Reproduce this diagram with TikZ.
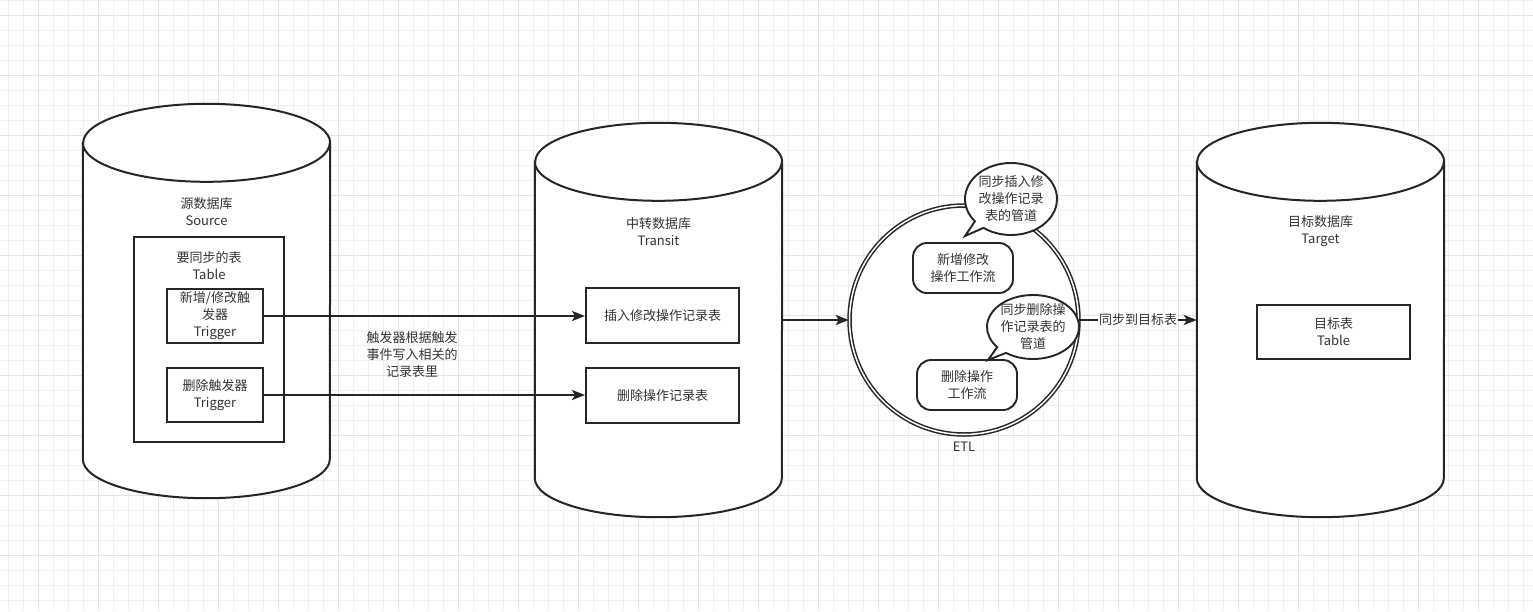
\documentclass[tikz,border=0pt]{standalone}
\usepackage{fontspec}
\setmainfont{Noto Sans CJK SC}
\usepackage{xcolor}
\usepackage{tikz}
\usetikzlibrary{shapes,shapes.callouts,arrows.meta,positioning,calc}

\definecolor{inkc}{HTML}{22272B}
\definecolor{txtc}{HTML}{333333}

\begin{document}
\begin{tikzpicture}[
    x=1pt, y=-1pt,
    font=\fontsize{13}{17}\selectfont,
    gridminor/.style={draw=black!6, line width=0.8pt},
    gridmajor/.style={draw=black!11, line width=0.8pt},
    dbcyl/.style={rectangle, inner sep=0, minimum width=247, minimum height=394},
    dbline/.style={draw=inkc, line width=2pt, fill=white},
    txt/.style={align=center, text=txtc, inner sep=1pt},
    tbl/.style={rectangle, draw=inkc, line width=2pt, fill=white, align=center, text=txtc, inner sep=0},
    flow/.style={rectangle, draw=inkc, line width=1.9pt, fill=white, rounded corners=14pt, align=center, text=txtc, minimum width=100, minimum height=50, inner sep=0},
    pipe/.style={ellipse callout, draw=inkc, line width=1.9pt, fill=white, align=center, text=txtc, inner sep=0, minimum width=92, minimum height=72},
    arrow/.style={-{Stealth[length=13pt, width=10pt, inset=3pt]}, line width=2pt, draw=inkc}
]
    \useasboundingbox (0,0) rectangle (1533,611);
    \fill [white] (0,0) rectangle (1533,611);

    % background grid
    \foreach \gx in {8,23,...,1533} \draw [gridminor] (\gx,0) -- (\gx,611);
    \foreach \gy in {0,15,...,611} \draw [gridminor] (0,\gy) -- (1533,\gy);
    \foreach \gx in {38,98,...,1533} \draw [gridmajor] (\gx,0) -- (\gx,611);
    \foreach \gy in {15,75,...,611} \draw [gridmajor] (0,\gy) -- (1533,\gy);

    % databases
    \node [dbcyl] (src) at (206.5,301) {};
    \node [dbcyl] (mid) at (658.5,320) {};
    \node [dbcyl] (dst) at (1320.5,320) {};
    \foreach \db in {src,mid,dst} {
        \draw [dbline] ($(\db.north west)+(0,39)$) -- ($(\db.south west)+(0,-39)$)
            arc [start angle=180, end angle=0, x radius=123.5, y radius=39]
            -- ($(\db.north east)+(0,39)$)
            arc [start angle=0, end angle=-180, x radius=123.5, y radius=39] -- cycle;
        \draw [dbline, fill=none] ($(\db.north west)+(0,39)$)
            arc [start angle=180, end angle=0, x radius=123.5, y radius=39];
    }

    % source side
    \node [txt] (srcname) at (206.5,211.5) {源数据库\\Source};
    \node [tbl, minimum width=150, minimum height=205] (srctbl) at (209,339.5) {};
    \node [txt] (srctblname) at (209,266) {要同步的表\\Table};
    \node [tbl, minimum width=96, minimum height=54] (trgup) at (215,316) {新增/修改触\\发器\\Trigger};
    \node [tbl, minimum width=96, minimum height=54] (trgdel) at (215,395) {删除触发器\\Trigger};

    % transit side
    \node [txt] (midname) at (658.5,231.5) {中转数据库\\Transit};
    \node [tbl, minimum width=153, minimum height=55] (insrec) at (662.5,315.5) {插入修改操作记录表};
    \node [tbl, minimum width=153, minimum height=55] (delrec) at (662.5,395.5) {删除操作记录表};

    % ETL
    \node [circle, draw=inkc, double, double distance=1.5pt, line width=1.5pt, fill=white, minimum size=229,
        label={[txt, label distance=6pt]below:ETL}] (etl) at (964,320) {};
    \node [flow] (wfins) at (963,268) {新增修改\\操作工作流};
    \node [flow] (wfdel) at (967,385) {删除操作\\工作流};
    \node [pipe, callout absolute pointer={(965,236)}] (pipeins) at (1011,199) {同步插入修\\改操作记录\\表的管道};
    \node [pipe, inner ysep=-4pt, minimum height=64, callout absolute pointer={(988,360)}] (pipedel) at (1033,327) {同步删除操\\作记录表的\\管道};

    % target side
    \node [txt] (dstname) at (1320.5,231.5) {目标数据库\\Target};
    \node [tbl, minimum width=153, minimum height=54] (dsttbl) at (1333.5,332) {目标表\\Table};

    \draw [arrow] (trgup.east) -- (trgup.east -| insrec.west);
    \draw [arrow] (trgdel.east) -- (trgdel.east -| delrec.west);
    \node [txt] (trgnote) at (412,355) {触发器根据触发\\事件写入相关的\\记录表里};
    \draw [arrow] (mid.east) -- (etl.west);
    \draw [arrow] (etl.east) -- node [txt, fill=white, inner sep=1pt] (syncnote) {同步到目标表} (dst.west);
\end{tikzpicture}
\end{document}
